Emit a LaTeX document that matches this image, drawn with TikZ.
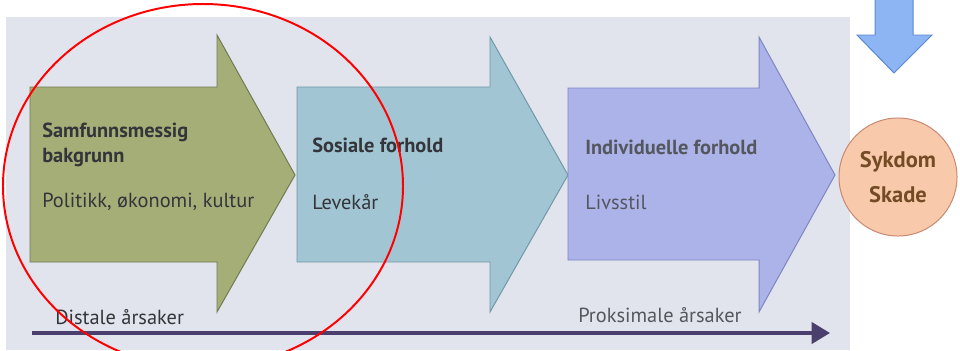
\documentclass[tikz,border=0pt]{standalone}
\usepackage{fontspec}
\setmainfont{PT Sans}
\usetikzlibrary{arrows.meta}
\definecolor{bggrey}{HTML}{E1E4EC}
\definecolor{greenfill}{HTML}{A6AE78}
\definecolor{greenline}{HTML}{6F7A50}
\definecolor{tealfill}{HTML}{A2C5D3}
\definecolor{tealline}{HTML}{6E98A8}
\definecolor{violetfill}{HTML}{ABB3E9}
\definecolor{violetline}{HTML}{7C86C2}
\definecolor{peachfill}{HTML}{F8C9AB}
\definecolor{peachline}{HTML}{C98870}
\definecolor{bluefill}{HTML}{8DB4F3}
\definecolor{blueline}{HTML}{5A88D2}
\definecolor{axiscol}{HTML}{4B3F6E}
\definecolor{textdark}{HTML}{33353A}
\definecolor{textgrey}{HTML}{55575E}
\begin{document}
\begin{tikzpicture}[x=0.025cm,y=-0.025cm,
	txt/.style={anchor=west,align=left,inner sep=0pt,text=textdark,font=\fontsize{14.5}{18}\selectfont},
	head/.style={txt,font=\fontsize{14.5}{18}\selectfont\bfseries},
	bigarrow/.style={line width=0.7pt}]
	\useasboundingbox (0,0) rectangle (960,350);
	\fill[bggrey] (6,17) rectangle (850,350);
	
	% the three cause arrows
	\filldraw[bigarrow,fill=greenfill,draw=greenline] (30,87) -- (217,87) -- (217,35) -- (295,175) -- (217,312) -- (217,262) -- (30,262) -- cycle;
	\filldraw[bigarrow,fill=tealfill,draw=tealline] (297,87) -- (490,87) -- (490,37) -- (568,175) -- (490,312) -- (490,262) -- (297,262) -- cycle;
	\filldraw[bigarrow,fill=violetfill,draw=violetline] (568,88) -- (759,88) -- (759,37) -- (835,175) -- (759,312) -- (759,260) -- (568,260) -- cycle;
	
	\node[head] (S1) at(42,145) {Samfunnsmessig\\bakgrunn};
	\node[txt] (P1) at(42,202) {Politikk, økonomi, kultur};
	\node[head] (S2) at(312,145) {Sosiale forhold};
	\node[txt] (P2) at(312,202) {Levekår};
	\node[head,text=textgrey] (S3) at(585,147) {Individuelle forhold};
	\node[txt,text=textgrey] (P3) at(585,202) {Livsstil};
	
	\node[circle,draw=peachline,fill=peachfill,line width=0.7pt,minimum size=2.95cm,inner sep=0pt,align=center,
		text=brown!60!black,font=\fontsize{16}{25}\selectfont\bfseries] (H) at(898,177) {Sykdom\\Skade};
	
	% arrow pointing down at the circle
	\filldraw[bigarrow,fill=bluefill,draw=blueline] (875,-2) -- (875,35) -- (857,35) -- (894,73) -- (932,35) -- (913,35) -- (913,-2) -- cycle;
	
	% time axis
	\coordinate (axL) at(32,333);
	\coordinate (axR) at(830,333);
	\draw[axiscol,line width=2.6pt,-{Triangle[length=13pt,width=15pt]}] (axL)--(axR);
	\node[txt] (D) at(55,317) {Distale årsaker};
	\node[txt,text=textgrey] (Pr) at(578,315) {Proksimale årsaker};
	
	\draw[red,line width=1.4pt] (203,186) ellipse [x radius=200,y radius=182];
\end{tikzpicture}
\end{document}
